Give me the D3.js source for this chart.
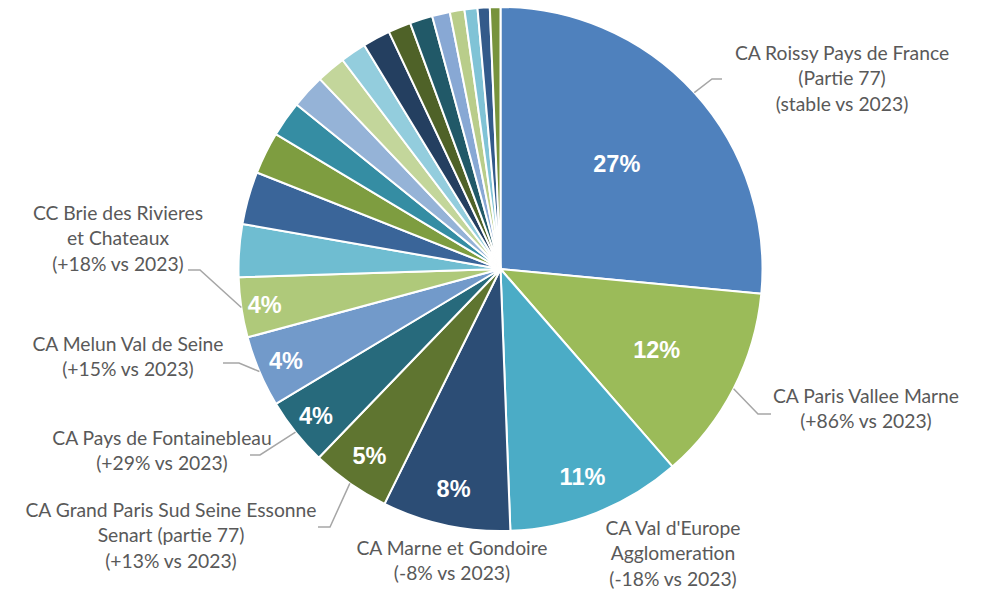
<!DOCTYPE html>
<html>
<head>
<meta charset="utf-8">
<script src="https://cdn.jsdelivr.net/npm/d3@7"></script>
<style>
    body { margin: 0; background: #fff; }
    .cat-label { font-family: Lato, "Open Sans", sans-serif; font-size: 19.3px; fill: #595959; }
    .pct-label { font-family: "Liberation Sans", Arial, sans-serif; font-size: 23.5px; font-weight: bold; fill: #fff; }
    .leader { fill: none; stroke: #a6a6a6; stroke-width: 1.5; }
</style>
</head>
<body>
<div id="chart"></div>
<script>
// share of each EPCI (percent), in drawing order from 12 o'clock
const shares = [26.5, 12.1, 10.8, 7.9, 4.9, 4.2, 4.4, 3.7, 3.25, 3.25, 2.6, 2.2, 2.1,
                1.8, 1.6, 1.7, 1.4, 1.4, 1.1, 0.9, 0.8, 0.75, 0.65];

const sliceColors = ['#4F81BD', '#9BBB59', '#4BACC6', '#2C4D75', '#5F7530', '#276A7C',
                     '#729ACA', '#AFC97A', '#6FBDD1', '#3A6599', '#7E9D40', '#358DA3',
                     '#95B3D7', '#C3D69B', '#93CDDD', '#243F60', '#4F6228', '#215968',
                     '#88A8D4', '#B9CD8A', '#80C3D6', '#335A8A', '#77933C'];

// names shown next to the first slices
const names = [
    ['CA Roissy Pays de France', '(Partie 77)', '(stable vs 2023)'],
    ['CA Paris Vallee Marne', '(+86% vs 2023)'],
    ["CA Val d'Europe", 'Agglomeration', '(-18% vs 2023)'],
    ['CA Marne et Gondoire', '(-8% vs 2023)'],
    ['CA Grand Paris Sud Seine Essonne', 'Senart (partie 77)', '(+13% vs 2023)'],
    ['CA Pays de Fontainebleau', '(+29% vs 2023)'],
    ['CA Melun Val de Seine', '(+15% vs 2023)'],
    ['CC Brie des Rivieres', 'et Chateaux', '(+18% vs 2023)']
];

// layout of the annotations (not data)
const pctRadius = [0.6, 0.67, 0.85, 0.857, 0.87, 0.90, 0.89, 0.91];
const nameLayout = [
    { x: 842, y: 53, elbow: [712, 79], end: [722, 79] },
    { x: 866, y: 396, elbow: [758, 414], end: [771, 414] },
    { x: 673, y: 528 },
    { x: 452, y: 548 },
    { x: 171, y: 510, elbow: [330, 527], end: [318, 527] },
    { x: 162, y: 438, elbow: [260, 455], end: [250, 455] },
    { x: 128, y: 344, elbow: [239, 363], end: [223, 363] },
    { x: 118, y: 213, elbow: [200, 270], end: [188, 270] }
];

const width = 998, height = 591;
const cx = 500.5, cy = 269, radius = 262;
const lineStep = 25.5;

const svg = d3.select('#chart').append('svg')
    .attr('width', width)
    .attr('height', height);

const pie = d3.pie().sort(null).value(d => d);
const arcs = pie(shares);
const arc = d3.arc().innerRadius(0).outerRadius(radius);

const pieGroup = svg.append('g')
    .attr('transform', `translate(${cx},${cy})`);

pieGroup.selectAll('path')
    .data(arcs)
    .enter().append('path')
    .attr('d', arc)
    .attr('fill', (d, i) => sliceColors[i])
    .attr('stroke', '#fff')
    .attr('stroke-width', 2)
    .attr('stroke-linejoin', 'round');

// percentage labels inside the named slices
pieGroup.selectAll('text.pct-label')
    .data(arcs.slice(0, names.length))
    .enter().append('text')
    .classed('pct-label', true)
    .attr('text-anchor', 'middle')
    .attr('dy', '0.36em')
    .attr('transform', (d, i) => {
        let c = d3.arc().innerRadius(0).outerRadius(radius * pctRadius[i] * 2).centroid(d);
        return `translate(${c[0]},${c[1]})`;
    })
    .text(d => `${Math.round(d.value)}%`);

// leader lines: from the rim at mid angle to the name
arcs.slice(0, names.length).forEach((d, i) => {
    let lay = nameLayout[i];
    if (!lay.elbow) return;
    let mid = (d.startAngle + d.endAngle) / 2;
    let p = [cx + radius * Math.sin(mid), cy - radius * Math.cos(mid)];
    svg.append('polyline')
        .classed('leader', true)
        .attr('points', [p, lay.elbow, lay.end].map(q => q.join(',')).join(' '));
});

// names
names.forEach((lines, i) => {
    let t = svg.append('text')
        .classed('cat-label', true)
        .attr('text-anchor', 'middle');
    lines.forEach((line, j) => {
        t.append('tspan')
            .attr('x', nameLayout[i].x)
            .attr('y', nameLayout[i].y + j * lineStep)
            .attr('dy', '0.35em')
            .text(line);
    });
});
</script>
</body>
</html>
